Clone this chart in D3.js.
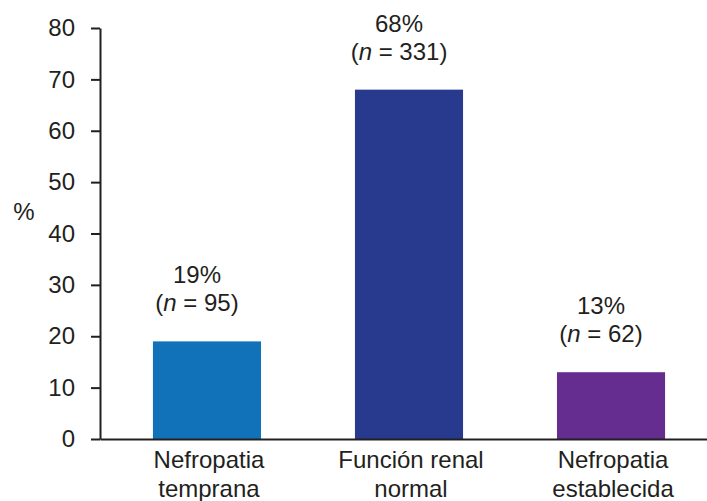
<!DOCTYPE html>
<html>
<head>
<meta charset="utf-8">
<script src="https://cdn.jsdelivr.net/npm/d3@7"></script>
<style>
  html, body { margin: 0; padding: 0; background: #fff; }
  svg { display: block; font-family: "Liberation Sans", Arial, Helvetica, sans-serif; }
</style>
</head>
<body>
<svg id="chart" width="707" height="501"></svg>
<script>
// Distribución de pacientes según función renal
const categories = [["Nefropatia", "temprana"], ["Función renal", "normal"], ["Nefropatia", "establecida"]];
const percentages = [19, 68, 13];
const counts = [95, 331, 62];
const barColors = ["#1172ba", "#283a8e", "#662d91"];
const yTicks = [0, 10, 20, 30, 40, 50, 60, 70, 80];
const yLabel = "%";

const ink = "#231f20";
const fontSize = 24;
const svg = d3.select("#chart");

const x = d3.scaleBand()
  .domain(d3.range(categories.length))
  .range([100, 718])
  .paddingInner(0.465)
  .paddingOuter(0.262);

const y = d3.scaleLinear().domain([0, 80]).range([439, 28]);

// Bars
svg.append("g").selectAll("rect")
  .data(percentages)
  .join("rect")
  .attr("x", (d, i) => x(i))
  .attr("y", d => y(d))
  .attr("width", x.bandwidth())
  .attr("height", d => y(0) - y(d))
  .attr("fill", (d, i) => barColors[i]);

// Y axis
const yAxis = svg.append("g")
  .attr("transform", "translate(100,0)")
  .call(d3.axisLeft(y).tickValues(yTicks).tickSize(9).tickPadding(16).tickSizeOuter(0));
yAxis.select(".domain").attr("stroke", ink).attr("stroke-width", 2);
yAxis.selectAll(".tick line").attr("stroke", ink).attr("stroke-width", 2);
yAxis.selectAll(".tick text")
  .attr("fill", ink)
  .attr("font-size", fontSize)
  .attr("font-family", "Liberation Sans, Arial, sans-serif");

// X axis baseline
const xAxis = svg.append("g")
  .attr("transform", `translate(0,${y(0)})`)
  .call(d3.axisBottom(x).tickSize(0).tickFormat(""));
xAxis.select(".domain").attr("stroke", ink).attr("stroke-width", 2);

// Category labels (two lines)
const catG = svg.append("g").attr("fill", ink).attr("font-size", fontSize).attr("text-anchor", "middle");
categories.forEach((lines, i) => {
  const t = catG.append("text")
    .attr("x", x(i) + x.bandwidth() / 2 + 2)
    .attr("y", y(0) + 29);
  lines.forEach((ln, k) => {
    t.append("tspan")
      .attr("x", x(i) + x.bandwidth() / 2 + 2)
      .attr("dy", k === 0 ? 0 : 29)
      .text(ln);
  });
});

// Value labels above bars
const valG = svg.append("g").attr("fill", ink).attr("font-size", fontSize).attr("text-anchor", "middle");
percentages.forEach((v, i) => {
  const cx = x(i) + x.bandwidth() / 2 - 10;
  const base = y(v) - 30;
  valG.append("text").attr("x", cx).attr("y", base - 28).text(v + "%");
  const t = valG.append("text").attr("x", cx).attr("y", base);
  t.append("tspan").text("(");
  t.append("tspan").attr("font-style", "italic").text("n");
  t.append("tspan").text(" = " + counts[i] + ")");
});

// Y axis unit label
svg.append("text")
  .attr("x", 24)
  .attr("y", 220)
  .attr("text-anchor", "middle")
  .attr("fill", ink)
  .attr("font-size", fontSize)
  .text(yLabel);
</script>
</body>
</html>
